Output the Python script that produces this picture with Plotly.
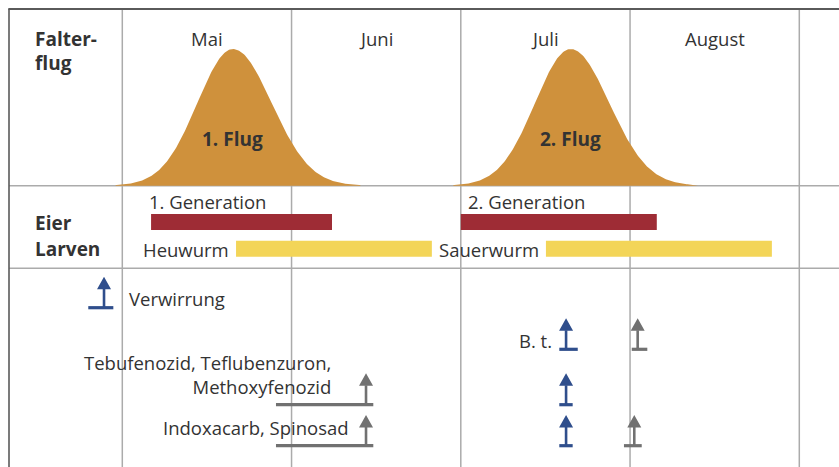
import numpy as np
import plotly.graph_objects as go

# ---------------- data ----------------
months = ["Mai", "Juni", "Juli", "August"]

flight_names = ["1. Flug", "2. Flug"]
flight_peak = [0.654, 2.649]          # month position of flight maximum
flight_sigma_left = [0.21, 0.21]      # spread before peak (months)
flight_sigma_right = [0.228, 0.228]   # spread after peak (months)

gen_names = ["1. Generation", "2. Generation"]
gen_start = [0.170, 2.000]
gen_end = [1.239, 3.158]

larva_names = ["Heuwurm", "Sauerwurm"]
larva_start = [0.672, 2.503]
larva_end = [1.829, 3.838]

treat_row_labels = ["Verwirrung", "B. t.",
                    "Tebufenozid, Teflubenzuron,<br>Methoxyfenozid",
                    "Indoxacarb, Spinosad"]
arrow_row = [0, 1, 1, 2, 2, 3, 3, 3]
arrow_at = [-0.108, 2.622, 3.045, 1.440, 2.622, 1.440, 2.622, 3.025]
arrow_from = [-0.201, 2.582, 3.010, 0.908, 2.582, 0.908, 2.582, 2.964]
arrow_to = [-0.053, 2.691, 3.102, 1.483, 2.661, 1.483, 2.661, 3.069]
arrow_kind = ["bio", "bio", "chem", "chem", "bio", "chem", "bio", "chem"]

# ---------------- layout constants ----------------
W, H = 839, 467
PXM = 169.25                 # pixels per month
X0 = 122.3                   # pixel of start of Mai
xr = [(-X0) / PXM, (W - X0) / PXM]
px = 1.0 / PXM               # one pixel in month units

FONT = "Open Sans"
TXT = "#333333"
FS = 18.5
FSB = 19
KIND_COLOR = {"bio": "#2F4E8C", "chem": "#717171"}
BELL_COLOR = "#CF913C"
RED = "#9E2C35"
YEL = "#F3D558"
GRID = "#ABABAB"
BORDER = "#5A5A5A"

TOP = 9
ROW1_BASE = 185.7
ROW2_BASE = 268.3
BELL_H = 136.7
GEN_Y = 222
LAR_Y = 248.7
BAR_W = 16
ARROW_TOP = [276.7, 318.3, 373.3, 415.0]
ARROW_BASE = [307.7, 349.3, 404.7, 445.7]
HEAD_H, HEAD_HW = 12.5, 7.0

fig = go.Figure()

# bells
for name, pk, sl, sr in zip(flight_names, flight_peak, flight_sigma_left, flight_sigma_right):
    xs = np.linspace(pk - 3.3 * sl, pk + 3.3 * sr, 260)
    sig = np.where(xs < pk, sl, sr)
    ys = ROW1_BASE - BELL_H * np.exp(-0.5 * ((xs - pk) / sig) ** 2)
    xs = np.concatenate([[xs[0]], xs, [xs[-1]]])
    ys = np.concatenate([[ROW1_BASE], ys, [ROW1_BASE]])
    fig.add_trace(go.Scatter(x=xs, y=ys, mode="lines", fill="toself",
                             fillcolor=BELL_COLOR, line=dict(width=0, color=BELL_COLOR),
                             hoverinfo="skip", showlegend=False))

# bars
fig.add_trace(go.Bar(orientation="h", base=gen_start,
                     x=[e - s for s, e in zip(gen_start, gen_end)],
                     y=[GEN_Y] * len(gen_start), width=BAR_W,
                     marker=dict(color=RED, line=dict(width=0)), showlegend=False))
fig.add_trace(go.Bar(orientation="h", base=larva_start,
                     x=[e - s for s, e in zip(larva_start, larva_end)],
                     y=[LAR_Y] * len(larva_start), width=BAR_W,
                     marker=dict(color=YEL, line=dict(width=0)), showlegend=False))

# arrows
for kind, col in KIND_COLOR.items():
    hx, hy, sx, sy, bx, by = [], [], [], [], [], []
    for r, a, f, t, k in zip(arrow_row, arrow_at, arrow_from, arrow_to, arrow_kind):
        if k != kind:
            continue
        top, base = ARROW_TOP[r], ARROW_BASE[r]
        hx += [a - HEAD_HW * px, a, a + HEAD_HW * px, a - HEAD_HW * px, None]
        hy += [top + HEAD_H, top, top + HEAD_H, top + HEAD_H, None]
        sx += [a, a, None]
        sy += [top + HEAD_H - 0.5, base, None]
        bx += [f, t, None]
        by += [base, base, None]
    fig.add_trace(go.Scatter(x=hx, y=hy, mode="lines", fill="toself", fillcolor=col,
                             line=dict(width=0, color=col), hoverinfo="skip", showlegend=False))
    fig.add_trace(go.Scatter(x=sx, y=sy, mode="lines", line=dict(width=2.6, color=col),
                             hoverinfo="skip", showlegend=False))
    fig.add_trace(go.Scatter(x=bx, y=by, mode="lines", line=dict(width=3.2, color=col),
                             hoverinfo="skip", showlegend=False))

# grid / frame
shapes = []
for i in range(len(months) + 1):
    shapes.append(dict(type="line", xref="x", yref="y", x0=i, x1=i, y0=TOP, y1=H,
                       line=dict(color=GRID, width=1.5), layer="below"))
for yy in (ROW1_BASE, ROW2_BASE):
    shapes.append(dict(type="line", xref="paper", yref="y", x0=9 / W, x1=1, y0=yy, y1=yy,
                       line=dict(color=GRID, width=1.5), layer="below"))
shapes.append(dict(type="line", xref="paper", yref="y", x0=8.3 / W, x1=1, y0=TOP, y1=TOP,
                   line=dict(color=BORDER, width=2), layer="above"))
shapes.append(dict(type="line", xref="paper", yref="y", x0=9 / W, x1=9 / W, y0=TOP, y1=H,
                   line=dict(color=BORDER, width=1.6), layer="above"))

ann = []


def text(x, y, s, anchor="left", bold=False, xref="x", xshift=0):
    size = FS
    if bold:
        s = "<b>" + s + "</b>"
        size = FSB
    ann.append(dict(x=x, y=y, xref=xref, yref="y", text=s, showarrow=False,
                    xanchor=anchor, yanchor="middle", xshift=xshift,
                    align=anchor if anchor != "center" else "center",
                    font=dict(family=FONT, size=size, color=TXT)))


# row titles
text(35 / W, 38.5, "Falter-", bold=True, xref="paper", xshift=-2)
text(35 / W, 62.5, "flug", bold=True, xref="paper", xshift=-2)
text(35 / W, 222.5, "Eier", bold=True, xref="paper", xshift=-2)
text(35 / W, 249, "Larven", bold=True, xref="paper", xshift=-2)

# months
for i, m in enumerate(months):
    text(i + 0.5, 38.3, m, anchor="center")

# flight labels
for name, pk in zip(flight_names, flight_peak):
    text(pk, 139, name, anchor="center", bold=True)

# generations / larvae labels
for name, s, dx in zip(gen_names, gen_start, [-4, 5]):
    text(s, 201.3, name, anchor="left", xshift=dx)
for name, s in zip(larva_names, larva_start):
    text(s, 249.3, name, anchor="right", xshift=-5)

# treatment labels
text(arrow_at[0], 298.7, treat_row_labels[0], anchor="left", xshift=23)
text(arrow_at[1], 340, treat_row_labels[1], anchor="right", xshift=-12.5)
ann.append(dict(x=arrow_at[3], y=374.5, xref="x", yref="y", text=treat_row_labels[2],
                showarrow=False, xanchor="right", yanchor="middle", xshift=-33, align="right",
                font=dict(family=FONT, size=FS, color=TXT)))
text(arrow_at[5], 427.5, treat_row_labels[3], anchor="right", xshift=-15)

fig.update_layout(
    width=W, height=H, margin=dict(l=0, r=0, t=0, b=0),
    paper_bgcolor="white", plot_bgcolor="white",
    xaxis=dict(range=xr, visible=False, fixedrange=True),
    yaxis=dict(range=[H, 0], visible=False, fixedrange=True),
    barmode="overlay", shapes=shapes, annotations=ann, showlegend=False,
)

fig.write_html("out.html", config={"displayModeBar": False},
               post_script="document.body.style.margin='0';")
